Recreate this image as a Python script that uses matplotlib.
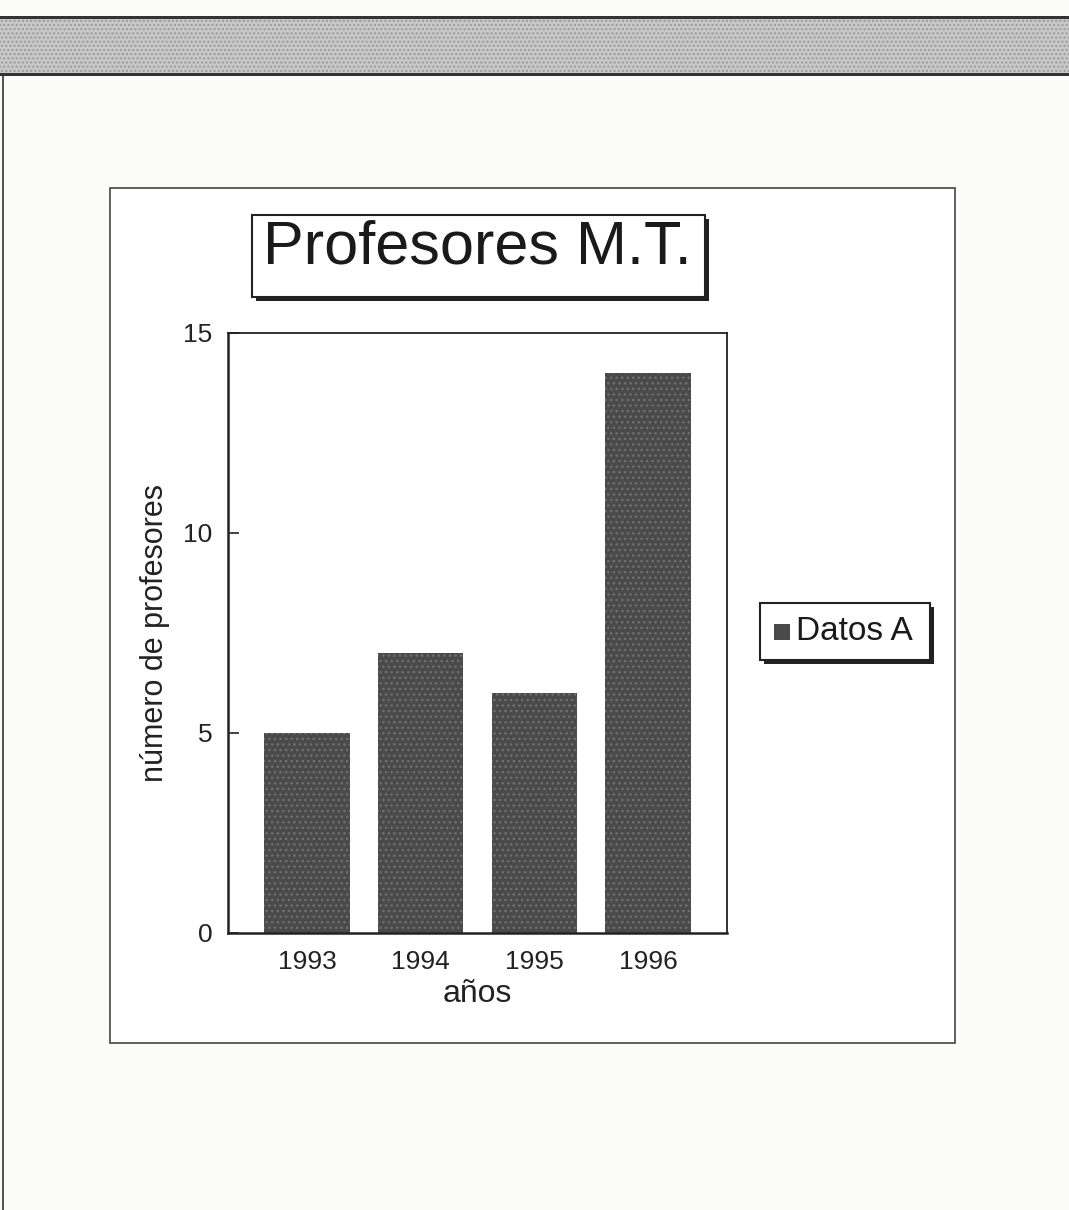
import matplotlib.pyplot as plt
from matplotlib.patches import Rectangle

# data
years = ['1993', '1994', '1995', '1996']
profesores = [5, 7, 6, 14]
yticks = [0, 5, 10, 15]

plt.rcParams['font.family'] = ['Liberation Sans', 'DejaVu Sans']
plt.rcParams['hatch.linewidth'] = 1.0

W, H = 1069, 1210
fig = plt.figure(figsize=(W / 100, H / 100), dpi=100)
fig.patch.set_facecolor('#fbfbfa')


def px_rect(x0, y0, x1, y1, z=1, **kw):
    # rectangle given in pixel coords of the picture (y from top)
    r = Rectangle((x0 / W, 1 - y1 / H), (x1 - x0) / W, (y1 - y0) / H,
                  transform=fig.transFigure, zorder=z, **kw)
    fig.patches.append(r)
    return r


# grey banner at the top
px_rect(0, 17, W, 75, z=-2, facecolor='#c8c8c8', edgecolor='#9a9a9a',
        linewidth=0, hatch='....')
px_rect(0, 16, W, 19, z=-1, facecolor='#333333', edgecolor='none')
px_rect(0, 73, W, 76, z=-1, facecolor='#333333', edgecolor='none')
# left edge of the window
px_rect(2, 76, 4, H, z=-1, facecolor='#555555', edgecolor='none')

# chart frame
px_rect(110, 188, 955, 1043, z=-1, facecolor='white', edgecolor='#444444', linewidth=1.2)

# title box with shadow
px_rect(256, 219, 709, 301, facecolor='#222222', edgecolor='none')
px_rect(252, 215, 705, 297, facecolor='white', edgecolor='#222222', linewidth=1.5)
fig.text(477 / W, 1 - 248 / H, 'Profesores M.T.', fontsize=44,
         ha='center', va='center', color='#1a1a1a', zorder=3)

# plot area
ax = fig.add_axes([228 / W, 1 - 933 / H, 499 / W, 600 / H])
ax.set_facecolor('white')
x = range(len(years))
ax.bar(x, profesores, width=0.75, color='#4a4a4a', edgecolor='#707070',
       hatch='...', linewidth=0, label='Datos A')
ax.set_xlim(-0.695, 3.695)
ax.set_ylim(0, 15)
ax.set_yticks(yticks)
ax.set_xticks(list(x))
ax.set_xticklabels(years, fontsize=19, color='#222222')
ax.tick_params(axis='x', length=0, pad=12)
ax.tick_params(axis='y', direction='in', length=8, width=1.2, labelsize=19,
               pad=11, colors='#222222')
for s in ax.spines.values():
    s.set_color('#222222')
    s.set_linewidth(1.3)
ax.spines['left'].set_linewidth(1.8)
ax.spines['bottom'].set_linewidth(1.8)
ax.set_xlabel('años', fontsize=23, color='#222222', labelpad=4)
ax.set_ylabel('número de profesores', fontsize=22, color='#222222', labelpad=10)

# legend box with shadow
px_rect(764, 607, 934, 664, facecolor='#222222', edgecolor='none')
px_rect(760, 603, 930, 660, facecolor='white', edgecolor='#222222', linewidth=1.5)
px_rect(774, 624, 790, 640, facecolor='#4a4a4a', edgecolor='none')
fig.text(796 / W, 1 - 631 / H, 'Datos A', fontsize=24,
         ha='left', va='center', color='#1a1a1a', zorder=3)

fig.savefig('out.png', dpi=100, facecolor=fig.get_facecolor())
